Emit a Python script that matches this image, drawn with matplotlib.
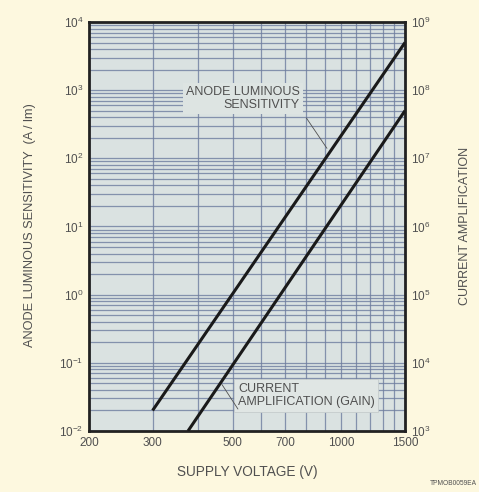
import matplotlib
matplotlib.use("Agg")
import matplotlib.pyplot as plt
from matplotlib.ticker import FixedLocator, NullFormatter, NullLocator, FixedFormatter, LogLocator

plt.rcParams['font.family'] = ['Liberation Sans', 'DejaVu Sans']
plt.rcParams['mathtext.fontset'] = 'custom'
plt.rcParams['mathtext.rm'] = 'Liberation Sans'

# ---- data ----
voltage_anode = [300, 1500]
anode_sensitivity = [0.02, 5000]
voltage_gain = [376, 1500]
current_gain = [1e3, 5e7]

x_major = [200, 300, 500, 700, 1000, 1500]
x_minor = [400, 600, 800, 900, 1100, 1200, 1300, 1400]
left_ticks = [1e-2, 1e-1, 1e0, 1e1, 1e2, 1e3, 1e4]
left_labels = ['10$^{-2}$', '10$^{-1}$', '10$^{0}$', '10$^{1}$', '10$^{2}$', '10$^{3}$', '10$^{4}$']
right_ticks = [1e3, 1e4, 1e5, 1e6, 1e7, 1e8, 1e9]
right_labels = ['10$^{3}$', '10$^{4}$', '10$^{5}$', '10$^{6}$', '10$^{7}$', '10$^{8}$', '10$^{9}$']

bg = '#fdf8df'
plot_bg = '#dae2e1'
grid_c = '#6e7d9f'
txt_c = '#505050'

fig = plt.figure(figsize=(4.79, 4.92), dpi=100, facecolor=bg)
ax = fig.add_axes([0.1858, 0.124, 0.6597, 0.8313])
ax.set_facecolor(plot_bg)
ax.set_xscale('log')
ax.set_yscale('log')
ax.set_xlim(200, 1500)
ax.set_ylim(1e-2, 1e4)

ax.xaxis.set_major_locator(FixedLocator(x_major))
ax.xaxis.set_minor_locator(FixedLocator(x_minor))
ax.xaxis.set_major_formatter(FixedFormatter([str(v) for v in x_major]))
ax.xaxis.set_minor_formatter(NullFormatter())
ax.yaxis.set_major_locator(FixedLocator(left_ticks))
ax.yaxis.set_major_formatter(FixedFormatter(left_labels))
ax.yaxis.set_minor_locator(LogLocator(base=10, subs=range(2, 10)))
ax.yaxis.set_minor_formatter(NullFormatter())

ax.grid(True, which='both', color=grid_c, lw=0.9, alpha=0.8)
ax.set_axisbelow(True)
ax.tick_params(which='both', length=0, colors=txt_c, labelsize=8.5, pad=4)
for s in ax.spines.values():
    s.set_linewidth(2.0)
    s.set_color('#222222')

ax.plot(voltage_anode, anode_sensitivity, color='#1a1a1a', lw=2.2, solid_capstyle='butt', zorder=5)

ax2 = ax.twinx()
ax2.set_yscale('log')
ax2.set_ylim(1e3, 1e9)
ax2.yaxis.set_major_locator(FixedLocator(right_ticks))
ax2.yaxis.set_major_formatter(FixedFormatter(right_labels))
ax2.yaxis.set_minor_locator(NullLocator())
ax2.tick_params(which='both', length=0, colors=txt_c, labelsize=8.5, pad=4)
for s in ax2.spines.values():
    s.set_visible(False)
ax2.plot(voltage_gain, current_gain, color='#1a1a1a', lw=2.2, solid_capstyle='butt', zorder=5)

# annotations
ax.text(768, 750, 'ANODE LUMINOUS\nSENSITIVITY', ha='right', va='center', fontsize=9,
        color=txt_c, linespacing=1.15,
        bbox=dict(boxstyle='square,pad=0.25', fc='#dde4e2', ec='none'), zorder=3)
ax.annotate('', xy=(912, 140), xytext=(800, 390),
            arrowprops=dict(arrowstyle='-', color=txt_c, lw=0.6, shrinkA=0, shrinkB=0), zorder=4)

ax2.text(517, 3.33e3, 'CURRENT\nAMPLIFICATION (GAIN)', ha='left', va='center', fontsize=9,
         color=txt_c, linespacing=1.1,
         bbox=dict(boxstyle='square,pad=0.3', fc='#e0e6e4', ec='#c5cccc', lw=0.6), zorder=3)
ax2.annotate('', xy=(467, 4.8e3), xytext=(517, 2.1e3),
             arrowprops=dict(arrowstyle='-', color=txt_c, lw=0.6, shrinkA=0, shrinkB=0), zorder=4)

fig.text(0.063, 0.543, 'ANODE LUMINOUS SENSITIVITY  (A / lm)', rotation=90, ha='center', va='center',
         fontsize=9.2, color=txt_c)
fig.text(0.971, 0.54, 'CURRENT AMPLIFICATION', rotation=90, ha='center', va='center',
         fontsize=9, color=txt_c)
fig.text(0.516, 0.04, 'SUPPLY VOLTAGE (V)', ha='center', va='center', fontsize=9.8, color=txt_c)
fig.text(0.995, 0.018, 'TPMOB0059EA', ha='right', va='center', fontsize=4.8, color=txt_c)

fig.savefig('out.png', dpi=100, facecolor=bg)
